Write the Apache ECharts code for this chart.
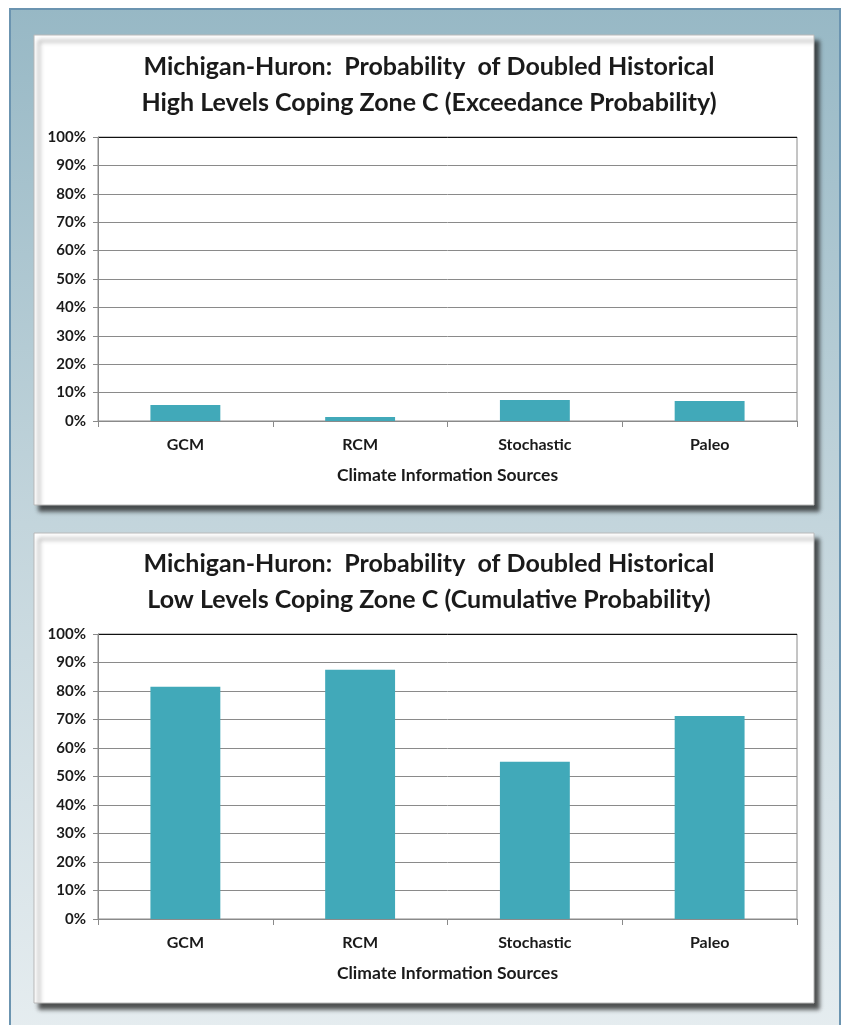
<!DOCTYPE html>
<html><head><meta charset="utf-8">
<script src="https://cdn.jsdelivr.net/npm/echarts@6/dist/echarts.min.js"></script>
<style>html,body{margin:0;padding:0;background:#fff}#c{width:843px;height:1025px}</style>
</head><body><div id="c"></div>
<script>
const categories = ['GCM', 'RCM', 'Stochastic', 'Paleo'];
const highValues = [5.6, 1.4, 7.4, 7.0];
const lowValues = [81.5, 87.5, 55.2, 71.2];
const yTicks = [0, 10, 20, 30, 40, 50, 60, 70, 80, 90, 100];
const title1 = 'Michigan-Huron:  Probability  of Doubled Historical\nHigh Levels Coping Zone C (Exceedance Probability)';
const title2 = 'Michigan-Huron:  Probability  of Doubled Historical\nLow Levels Coping Zone C (Cumulative Probability)';
const xName = 'Climate Information Sources';

const FONT = 'Lato';
const chart = echarts.init(document.getElementById('c'), null, {renderer: 'canvas'});
const gridLines = yTicks.map((v, i) => i === yTicks.length - 1 ? '#111' : '#8a8a8a');

function xAxis(gi) {
  return {
    type: 'category', gridIndex: gi, data: categories,
    axisLine: {lineStyle: {color: '#8a8a8a'}},
    axisTick: {show: true, alignWithLabel: false, length: 6, lineStyle: {color: '#8a8a8a'}},
    axisLabel: {color: '#1a1a1a', fontFamily: FONT, fontWeight: 'bold', fontSize: 16, margin: 16},
    name: xName, nameLocation: 'middle', nameGap: 45,
    nameTextStyle: {color: '#1a1a1a', fontFamily: FONT, fontWeight: 'bold', fontSize: 17.5}
  };
}
function yAxis(gi) {
  return {
    type: 'value', gridIndex: gi, min: 0, max: 100, interval: 10,
    axisLine: {show: true, lineStyle: {color: '#8a8a8a'}},
    axisTick: {show: true, length: 5, lineStyle: {color: '#8a8a8a'}},
    axisLabel: {formatter: '{value}%', color: '#1a1a1a', fontFamily: FONT, fontWeight: 'bold', fontSize: 15, letterSpacing: 0.6, margin: 12},
    splitLine: {show: true, lineStyle: {color: gridLines, width: 1}}
  };
}
function titleOpt(text, top) {
  return {
    text: text, left: 424, top: top, textAlign: 'center',
    textStyle: {fontFamily: FONT, fontWeight: 'bold', fontSize: 25, color: '#1a1a1a', lineHeight: 36}
  };
}

const option = {
  animation: false,
  backgroundColor: '#ffffff',
  graphic: [
    {type: 'rect', z: -10, shape: {x: 10, y: 9, width: 830, height: 1030},
     style: {fill: new echarts.graphic.LinearGradient(0, 0, 0, 1, [
       {offset: 0, color: '#97b8c5'}, {offset: 0.5, color: '#c3d5dc'}, {offset: 1, color: '#e6edf0'}]),
       stroke: '#6b94b0', lineWidth: 2}},
    {type: 'rect', z: -5, shape: {x: 34, y: 35, width: 780, height: 470},
     style: {fill: '#ffffff', stroke: '#b8b8b8', lineWidth: 1, shadowBlur: 4, shadowOffsetX: 5, shadowOffsetY: 6, shadowColor: 'rgba(30,30,30,0.75)'}},
    {type: 'rect', z: -5, shape: {x: 34, y: 533, width: 780, height: 470},
     style: {fill: '#ffffff', stroke: '#b8b8b8', lineWidth: 1, shadowBlur: 4, shadowOffsetX: 5, shadowOffsetY: 6, shadowColor: 'rgba(30,30,30,0.75)'}}
  ],
  title: [titleOpt(title1, 44), titleOpt(title2, 541)],
  grid: [
    {left: 98, top: 137, width: 699, height: 284, show: true, borderColor: '#8a8a8a', borderWidth: 1},
    {left: 98, top: 634, width: 699, height: 285, show: true, borderColor: '#8a8a8a', borderWidth: 1}
  ],
  xAxis: [xAxis(0), xAxis(1)],
  yAxis: [yAxis(0), yAxis(1)],
  series: [
    {type: 'bar', xAxisIndex: 0, yAxisIndex: 0, data: highValues, barWidth: '40%', itemStyle: {color: '#41a9b9'}},
    {type: 'bar', xAxisIndex: 1, yAxisIndex: 1, data: lowValues, barWidth: '40%', itemStyle: {color: '#41a9b9'}}
  ]
};
chart.setOption(option);
</script></body></html>
